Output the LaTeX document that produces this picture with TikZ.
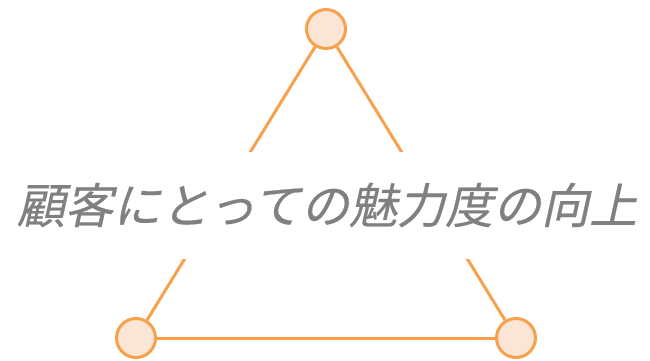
\documentclass[tikz,border=0pt]{standalone}
\usepackage{fontspec}
\newfontfamily\jpfont[FakeSlant=0.22,FakeBold=0.4]{Noto Sans CJK JP}
\definecolor{edgeorange}{RGB}{247,161,76}
\definecolor{peachfill}{RGB}{250,229,215}
\definecolor{labelgray}{RGB}{128,128,128}

\begin{document}
\begin{tikzpicture}[
            x=1pt, y=-1pt,
            vertex/.style={%
                circle, line width=3pt, draw=edgeorange, fill=peachfill,%
                minimum size=39pt, inner sep=0pt%
            },
            side/.style={line width=3pt, draw=edgeorange},
            banner/.style={%
                fill=white, text=labelgray, inner sep=0pt,%
                minimum width=630pt, minimum height=107pt,%
                font=\jpfont\fontsize{48pt}{52pt}\selectfont%
            }
        ]
        \useasboundingbox (0,0) rectangle (650,361);

        % Define nodes
        \node (top) [vertex] at (326,29) {};
        \node (left) [vertex] at (136,338) {};
        \node (right) [vertex] at (516,338) {};

        \draw [side] (top) -- (left);
        \draw [side] (top) -- (right);
        \draw [side] (left) -- (right);

        \node (title) [banner] at (327,205) {顧客にとっての魅力度の向上};

        \end{tikzpicture}
\end{document}
